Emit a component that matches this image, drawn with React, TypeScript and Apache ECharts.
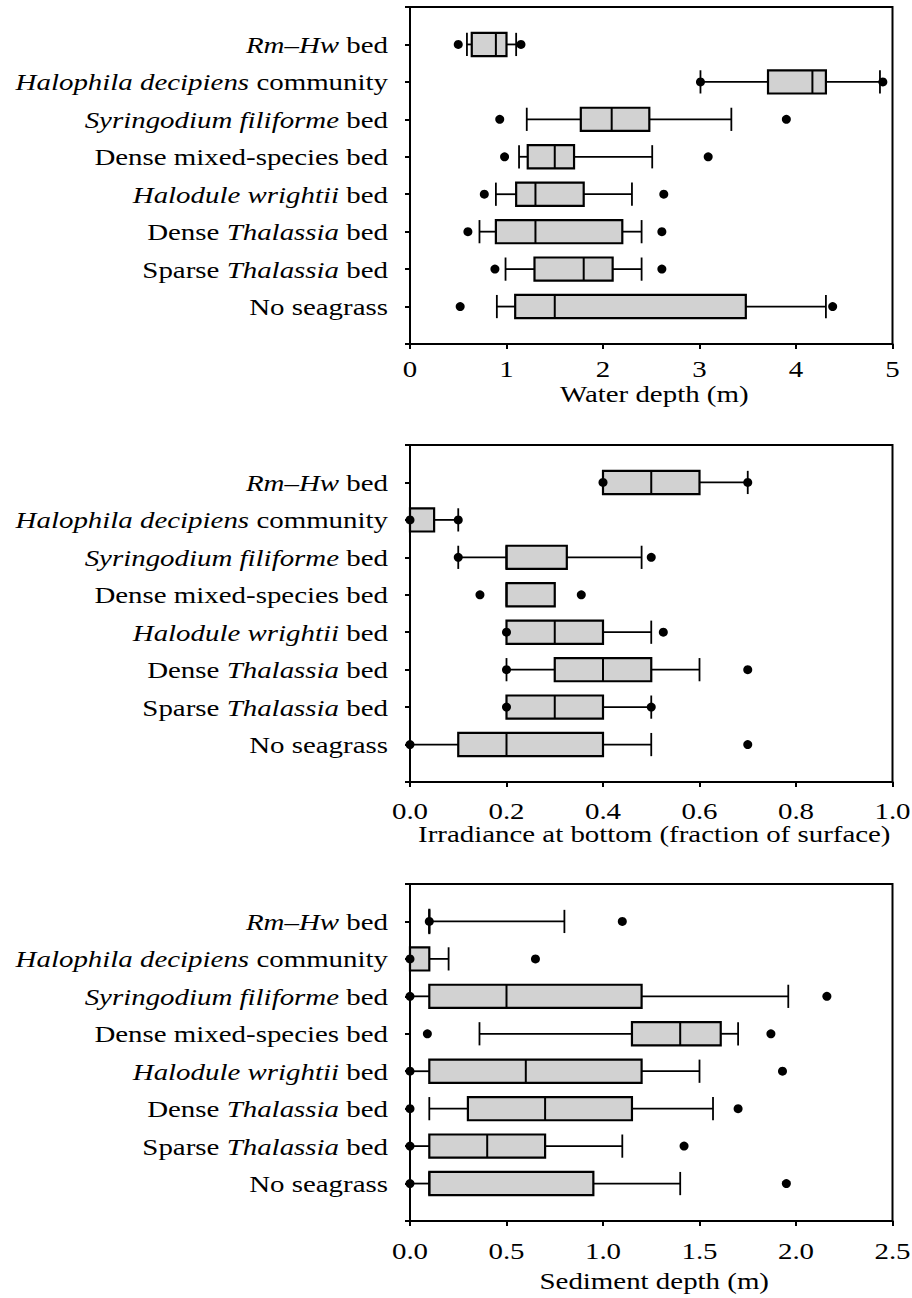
import React, { useEffect, useRef } from "react";
import * as echarts from "echarts";

// ---------- data ----------
const categories = [
  "Rm–Hw bed",
  "Halophila decipiens community",
  "Syringodium filiforme bed",
  "Dense mixed-species bed",
  "Halodule wrightii bed",
  "Dense Thalassia bed",
  "Sparse Thalassia bed",
  "No seagrass",
];
const categoryRich = [
  "{i|Rm–Hw} bed",
  "{i|Halophila decipiens} community",
  "{i|Syringodium filiforme} bed",
  "Dense mixed-species bed",
  "{i|Halodule wrightii} bed",
  "Dense {i|Thalassia} bed",
  "Sparse {i|Thalassia} bed",
  "No seagrass",
];

// [whisker low, q1, median, q3, whisker high]
const depthBox = [
  [0.59, 0.64, 0.89, 1.0, 1.1],
  [3.01, 3.71, 4.17, 4.31, 4.87],
  [1.21, 1.77, 2.09, 2.48, 3.33],
  [1.13, 1.22, 1.5, 1.7, 2.51],
  [0.89, 1.1, 1.3, 1.8, 2.3],
  [0.72, 0.89, 1.3, 2.2, 2.4],
  [0.99, 1.29, 1.8, 2.1, 2.4],
  [0.9, 1.09, 1.5, 3.48, 4.31],
];
const depthOutliers = [
  [0.5, 1.15],
  [3.01, 4.9],
  [0.93, 3.9],
  [0.98, 3.09],
  [0.77, 2.63],
  [0.6, 2.61],
  [0.88, 2.61],
  [0.52, 4.38],
];

const irrBox = [
  [0.4, 0.4, 0.5, 0.6, 0.7],
  [0.0, 0.0, 0.0, 0.05, 0.1],
  [0.1, 0.2, 0.2, 0.325, 0.48],
  [0.2, 0.2, 0.2, 0.3, 0.3],
  [0.2, 0.2, 0.3, 0.4, 0.5],
  [0.2, 0.3, 0.4, 0.5, 0.6],
  [0.2, 0.2, 0.3, 0.4, 0.5],
  [0.0, 0.1, 0.2, 0.4, 0.5],
];
const irrOutliers = [
  [0.4, 0.7],
  [0.0, 0.1],
  [0.1, 0.5],
  [0.145, 0.355],
  [0.2, 0.525],
  [0.2, 0.7],
  [0.2, 0.5],
  [0.0, 0.7],
];

const sedBox = [
  [0.1, 0.1, 0.1, 0.1, 0.8],
  [0.0, 0.0, 0.0, 0.1, 0.2],
  [0.0, 0.1, 0.5, 1.2, 1.96],
  [0.36, 1.15, 1.4, 1.61, 1.7],
  [0.0, 0.1, 0.6, 1.2, 1.5],
  [0.1, 0.3, 0.7, 1.15, 1.57],
  [0.0, 0.1, 0.4, 0.7, 1.1],
  [0.0, 0.1, 0.1, 0.95, 1.4],
];
const sedOutliers = [
  [0.1, 1.1],
  [0.0, 0.65],
  [0.0, 2.16],
  [0.09, 1.87],
  [0.0, 1.93],
  [0.0, 1.7],
  [0.0, 1.42],
  [0.0, 1.95],
];

const depthTickValues = [0, 1, 2, 3, 4, 5];
const depthTickLabels = ["0", "1", "2", "3", "4", "5"];
const irrTickValues = [0, 0.2, 0.4, 0.6, 0.8, 1.0];
const irrTickLabels = ["0.0", "0.2", "0.4", "0.6", "0.8", "1.0"];
const sedTickValues = [0, 0.5, 1.0, 1.5, 2.0, 2.5];
const sedTickLabels = ["0.0", "0.5", "1.0", "1.5", "2.0", "2.5"];

const axisTitles = [
  "Water depth (m)",
  "Irradiance at bottom (fraction of surface)",
  "Sediment depth (m)",
];

// ---------- layout ----------
const FONT = "'Liberation Serif', 'Times New Roman', serif";
const FS = 23.5;
const SX = 1.23;
const GRID_LEFT = 410;
const GRID_WIDTH = 482.5;
const GRID_HEIGHT = 337;

const panels = [
  { top: 7, box: depthBox, out: depthOutliers, max: 5, interval: 1, tv: depthTickValues, tl: depthTickLabels, tickY: 369.5, titleY: 394 },
  { top: 445, box: irrBox, out: irrOutliers, max: 1, interval: 0.2, tv: irrTickValues, tl: irrTickLabels, tickY: 811, titleY: 834 },
  { top: 884, box: sedBox, out: sedOutliers, max: 2.5, interval: 0.5, tv: sedTickValues, tl: sedTickLabels, tickY: 1251, titleY: 1281 },
];

const NROWS = categories.length;
const rowY = (i: number) => NROWS - i;

function renderBox(params: any, api: any) {
  const y = api.value(0);
  const low = api.coord([api.value(1), y]);
  const q1 = api.coord([api.value(2), y]);
  const med = api.coord([api.value(3), y]);
  const q3 = api.coord([api.value(4), y]);
  const high = api.coord([api.value(5), y]);
  const hh = api.size([0, 0.31])[1];
  const cy = low[1];
  const lineStyle = { stroke: "#000", lineWidth: 1.8, fill: null };
  const children: any[] = [];
  if (q1[0] - low[0] > 0.5) {
    children.push({ type: "line", shape: { x1: low[0], y1: cy, x2: q1[0], y2: cy }, style: lineStyle });
    children.push({ type: "line", shape: { x1: low[0], y1: cy - hh, x2: low[0], y2: cy + hh }, style: lineStyle });
  }
  if (high[0] - q3[0] > 0.5) {
    children.push({ type: "line", shape: { x1: q3[0], y1: cy, x2: high[0], y2: cy }, style: lineStyle });
    children.push({ type: "line", shape: { x1: high[0], y1: cy - hh, x2: high[0], y2: cy + hh }, style: lineStyle });
  }
  children.push({
    type: "rect",
    shape: { x: q1[0], y: cy - hh, width: Math.max(q3[0] - q1[0], 0.01), height: hh * 2 },
    style: { fill: "#d2d2d2", stroke: "#000", lineWidth: 2.2 },
  });
  children.push({ type: "line", shape: { x1: med[0], y1: cy - hh, x2: med[0], y2: cy + hh }, style: { stroke: "#000", lineWidth: 2 } });
  return { type: "group", children };
}

function buildOption() {
  const grid: any[] = [];
  const xAxis: any[] = [];
  const yAxis: any[] = [];
  const series: any[] = [];
  panels.forEach((p, k) => {
    grid.push({
      left: GRID_LEFT,
      top: p.top,
      width: GRID_WIDTH,
      height: GRID_HEIGHT,
      show: true,
      borderColor: "#000",
      borderWidth: 2,
      backgroundColor: "transparent",
      containLabel: false,
    });
    xAxis.push({
      type: "value",
      gridIndex: k,
      min: 0,
      max: p.max,
      interval: p.interval,
      axisLine: { show: true, lineStyle: { color: "#000", width: 2 } },
      axisTick: { show: true, inside: false, length: 5, lineStyle: { color: "#000", width: 2 } },
      axisLabel: { show: false },
      splitLine: { show: false },
    });
    yAxis.push({
      type: "value",
      gridIndex: k,
      min: 0,
      max: NROWS + 1,
      interval: 1,
      axisLine: { show: true, lineStyle: { color: "#000", width: 2 } },
      axisTick: { show: true, inside: false, length: 5, lineStyle: { color: "#000", width: 2 } },
      axisLabel: { show: false },
      splitLine: { show: false },
    });
    series.push({
      type: "custom",
      xAxisIndex: k,
      yAxisIndex: k,
      renderItem: renderBox,
      encode: { x: [1, 2, 3, 4, 5], y: 0 },
      data: p.box.map((b, i) => [rowY(i), ...b]),
      clip: false,
      silent: true,
      z: 2,
    });
    const pts: number[][] = [];
    p.out.forEach((vals, i) => vals.forEach((v) => pts.push([v, rowY(i)])));
    series.push({
      type: "scatter",
      xAxisIndex: k,
      yAxisIndex: k,
      data: pts,
      symbol: "circle",
      symbolSize: 9,
      itemStyle: { color: "#000", opacity: 1 },
      clip: false,
      silent: true,
      z: 3,
    });
  });
  return {
    animation: false,
    backgroundColor: "#fff",
    grid,
    xAxis,
    yAxis,
    series,
  };
}

function textEl(text: string, x: number, y: number, align: string, rich = false) {
  const style: any = {
    text,
    x: 0,
    y: 0,
    fontFamily: FONT,
    fontSize: FS,
    fill: "#000",
    align,
    verticalAlign: "middle",
  };
  if (rich) {
    style.rich = {
      i: { fontFamily: FONT, fontSize: FS, fontStyle: "italic", fill: "#000" },
    };
  }
  return { type: "text", x, y, scaleX: SX, scaleY: 1, originX: 0, originY: 0, style, silent: true, z: 10 };
}

export default function App() {
  const ref = useRef<HTMLDivElement>(null);
  useEffect(() => {
    if (!ref.current) return;
    const chart = echarts.init(ref.current, null, { renderer: "svg" });
    chart.setOption(buildOption());
    const graphics: any[] = [];
    panels.forEach((p, k) => {
      categoryRich.forEach((c, i) => {
        const pt = chart.convertToPixel({ gridIndex: k } as any, [0, rowY(i)]) as number[];
        graphics.push(textEl(c, 388, pt[1] + 1, "right", true));
      });
      p.tv.forEach((v, j) => {
        const pt = chart.convertToPixel({ gridIndex: k } as any, [v, 0]) as number[];
        graphics.push(textEl(p.tl[j], pt[0], p.tickY, "center"));
      });
      graphics.push(textEl(axisTitles[k], GRID_LEFT + GRID_WIDTH / 2 + 3, p.titleY, "center"));
    });
    chart.setOption({ graphic: graphics });
    return () => chart.dispose();
  }, []);
  return (
    <div
      ref={ref}
      style={{ position: "absolute", left: 0, top: 0, width: 912, height: 1298, background: "#fff" }}
    />
  );
}
